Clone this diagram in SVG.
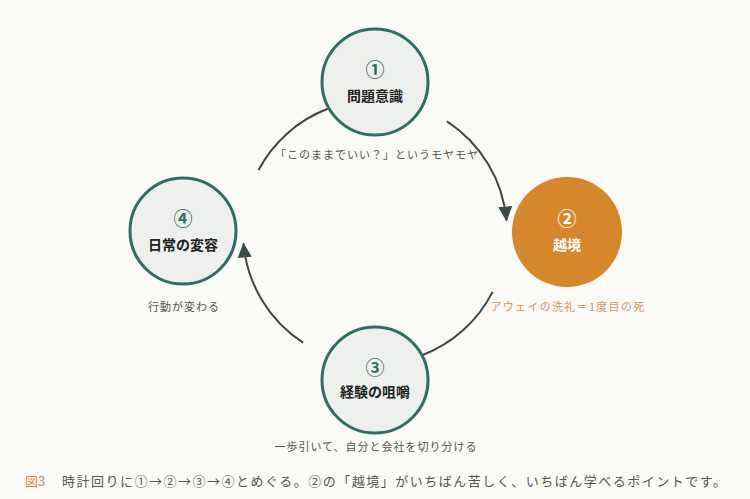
<svg xmlns="http://www.w3.org/2000/svg" width="750" height="499" viewBox="0 0 750 499">
<style>
text{font-family:"Noto Sans CJK JP","Noto Sans",sans-serif;text-anchor:middle;dominant-baseline:central}
.n{fill:#eef0ed;stroke:#2f6e66;stroke-width:3}
.num{font-size:19px;font-weight:bold;fill:#2f6e66}
.ttl{font-size:14px;font-weight:bold;fill:#222}
.lbl{font-size:11px;fill:#555;letter-spacing:1px}
.edge{fill:none;stroke:#444;stroke-width:2}
</style>
<defs>
<marker id="ah" markerUnits="userSpaceOnUse" markerWidth="16" markerHeight="16" viewBox="0 0 16 16" refX="14" refY="8" orient="auto">
<path d="M0,1 L15,8 L0,15 z" fill="#3c4a47"/>
</marker>
</defs>
<rect width="750" height="499" fill="#fafaf7"/>
<g id="connectors">
<path class="edge" d="M446.9,121.3 A132,132 0 0,1 506.5,220.5" marker-end="url(#ah)"/>
<path class="edge" d="M492.6,291.9 A132,132 0 0,1 422.3,355.2"/>
<path class="edge" d="M303.1,342.7 A132,132 0 0,1 243.5,243.5" marker-end="url(#ah)"/>
<path class="edge" d="M258.5,170 A132,132 0 0,1 327.7,108.8"/>
</g>
<g id="node1">
<circle class="n" cx="375" cy="82" r="53"/>
<text class="num" x="375" y="68">①</text>
<text class="ttl" x="375" y="95">問題意識</text>
<text class="lbl" x="377" y="154">「このままでいい？」というモヤモヤ</text>
</g>
<g id="node2">
<circle cx="567" cy="232" r="55" fill="#d6862b"/>
<text class="num" x="567" y="217" style="fill:#fff">②</text>
<text class="ttl" x="567" y="244" style="fill:#fff">越境</text>
<text class="lbl" x="568" y="306" style="fill:#d9925a;letter-spacing:1.3px">アウェイの洗礼＝1度目の死</text>
</g>
<g id="node3">
<circle class="n" cx="375" cy="380" r="53"/>
<text class="num" x="375" y="366">③</text>
<text class="ttl" x="375" y="391">経験の咀嚼</text>
<text class="lbl" x="376" y="446">一歩引いて、自分と会社を切り分ける</text>
</g>
<g id="node4">
<circle class="n" cx="183" cy="231" r="53"/>
<text class="num" x="183" y="217">④</text>
<text class="ttl" x="183" y="244">日常の変容</text>
<text class="lbl" x="184" y="306">行動が変わる</text>
</g>
<g id="caption">
<text x="25" y="480" style="text-anchor:start;font-size:13px;fill:#d8894a">図3</text>
<text x="62" y="480" style="text-anchor:start;font-size:13px;fill:#555;letter-spacing:1.5px">時計回りに①→②→③→④とめぐる。②の「越境」がいちばん苦しく、いちばん学べるポイントです。</text>
</g>
</svg>
